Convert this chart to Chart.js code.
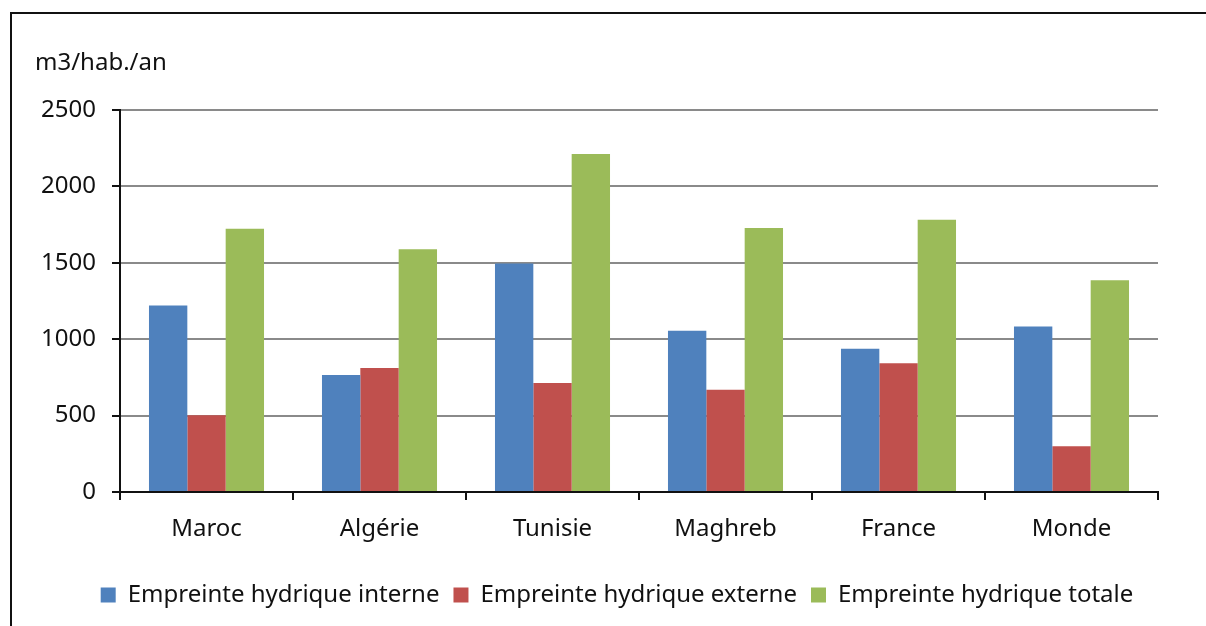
<!DOCTYPE html>
<html>
<head>
<meta charset="utf-8">
<script src="https://cdn.jsdelivr.net/npm/chart.js@4/dist/chart.umd.min.js"></script>
<style>
    html, body { margin: 0; padding: 0; background: #fff; overflow: hidden; }
    #frame {
        position: absolute; left: 10px; top: 12px; width: 1300px; height: 700px;
        border-left: 2px solid #111; border-top: 2px solid #111;
    }
    #wrap { position: absolute; left: 0; top: 0; width: 1206px; height: 626px; }
    #unite {
        position: absolute; left: 35px; top: 45px; color: #111;
        font: 24px 'Noto Sans', 'Open Sans', sans-serif; line-height: 32px;
    }
</style>
</head>
<body>
<div id="frame"></div>
<div id="wrap"><canvas id="waterChart" width="1206" height="626"></canvas></div>
<div id="unite">m3/hab./an</div>
<script>
    'use strict';

    // valeurs (m3/hab./an)
    var pays = ['Maroc', 'Algérie', 'Tunisie', 'Maghreb', 'France', 'Monde'];
    var interne = [1220, 766, 1496, 1056, 937, 1083];
    var externe = [503, 812, 713, 669, 842, 299];
    var totale = [1723, 1588, 2212, 1727, 1781, 1386];
    var yTicks = [0, 500, 1000, 1500, 2000, 2500];

    var police = "'Noto Sans', 'Open Sans', sans-serif";
    var taille = 24;

    var ctx = document.getElementById('waterChart').getContext('2d');
    new Chart(ctx, {
        type: 'bar',
        data: {
            labels: pays,
            datasets: [
                { label: 'Empreinte hydrique interne', data: interne, backgroundColor: '#4F81BD' },
                { label: 'Empreinte hydrique externe', data: externe, backgroundColor: '#C0504D' },
                { label: 'Empreinte hydrique totale', data: totale, backgroundColor: '#9BBB59' }
            ]
        },
        options: {
            responsive: false,
            animation: false,
            devicePixelRatio: 1,
            layout: { padding: { left: 35, right: 7, top: 110, bottom: 9 } },
            datasets: {
                bar: { categoryPercentage: 0.665, barPercentage: 1.0, borderWidth: 0 }
            },
            plugins: {
                tooltip: { enabled: false },
                title: { display: false },
                legend: {
                    position: 'bottom',
                    labels: {
                        color: '#111',
                        font: { family: police, size: taille },
                        boxWidth: 15,
                        boxHeight: 15,
                        padding: 14
                    }
                }
            },
            scales: {
                x: {
                    afterFit: function(scale) { scale.height = 77; },
                    grid: { drawOnChartArea: false, drawTicks: true, tickLength: 8, color: '#111', lineWidth: 2 },
                    border: { color: '#111', width: 2 },
                    ticks: { color: '#111', font: { family: police, size: taille }, padding: 15 }
                },
                y: {
                    min: 0,
                    max: 2500,
                    afterBuildTicks: function(scale) {
                        scale.ticks = yTicks.map(function(v) { return { value: v }; });
                    },
                    afterFit: function(scale) { scale.width = 85; },
                    grid: {
                        color: '#8a8a8a',
                        lineWidth: 2,
                        tickLength: 8,
                        tickColor: '#111'
                    },
                    border: { color: '#111', width: 2 },
                    ticks: {
                        color: '#111',
                        font: { family: police, size: taille },
                        padding: 16,
                        callback: function(v) { return String(v); }
                    }
                },
                // marge droite vide, pour centrer la légende comme dans l'original
                marge: {
                    position: 'right',
                    afterFit: function(scale) { scale.width = 41; },
                    grid: { display: false },
                    border: { display: false },
                    ticks: { display: false }
                }
            }
        }
    });
</script>
</body>
</html>
